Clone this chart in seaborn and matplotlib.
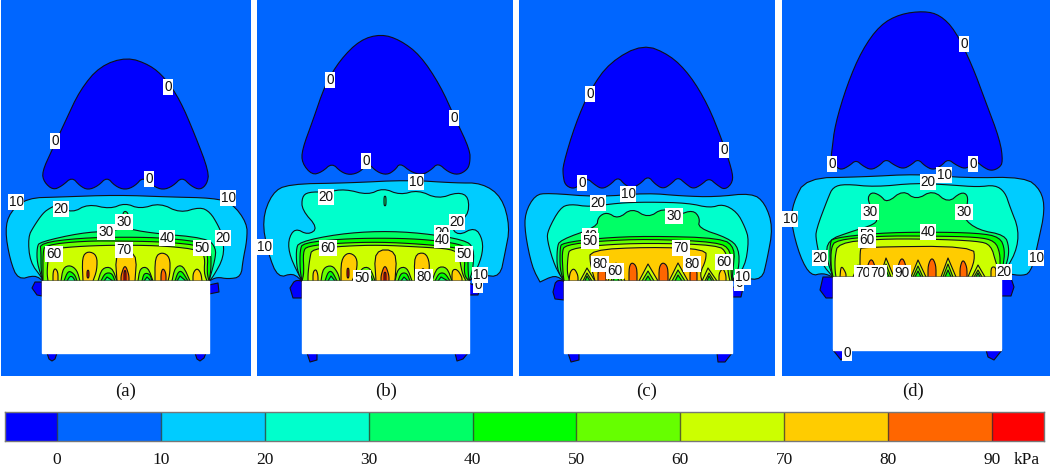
import numpy as np
import matplotlib
matplotlib.use("Agg")
import matplotlib.pyplot as plt
from matplotlib.colors import ListedColormap
import seaborn as sns

# bands of the pressure scale, below 0 up to above 90 kPa
band_colors = ["#0000ff", "#0066ff", "#00ccff", "#00ffcc", "#00ff66", "#00ff00",
               "#66ff00", "#ccff00", "#ffcc00", "#ff6600", "#ff0000"]
bar_values = [-5, 5, 5, 15, 15, 25, 25, 35, 35, 45, 45, 55, 55, 65, 65, 75, 75, 85, 85, 95]
bar_ticks = [0, 10, 20, 30, 40, 50, 60, 70, 80, 90]
panel_names = ["(a)", "(b)", "(c)", "(d)"]

# contour outlines: (band index, outline points)
regions_a = [
    (0, [(127,57),(100,66),(80,90),(65,122),(52,150),(42,172),(44,182),(53,190),(62,186),(72,177),(80,186),(88,190),(98,186),(107,177),(115,186),(125,190),(135,186),(143,177),(153,186),(163,190),(173,186),(182,177),(191,186),(200,190),(207,184),(209,172),(195,135),(180,100),(165,78),(150,65)]),
    (0, [(35,282),(32,288),(37,295),(42,296),(42,282)]),
    (0, [(209,285),(218,283),(219,292),(209,294)]),
    (0, [(47,353),(49,359),(52,361),(55,359),(57,353)]),
    (0, [(195,353),(197,359),(200,361),(204,358),(206,353)]),
    (2, [(27,198),(60,197),(117,195),(170,197),(213,198),(232,203),(247,223),(247,240),(243,260),(241,277),(228,279),(217,277),(209,281),(43,281),(35,275),(18,280),(10,260),(5,230),(10,212)]),
    (3, [(43,213),(50,208),(57,205),(72,213),(88,204),(110,209),(125,203),(140,209),(160,203),(180,213),(200,207),(210,212),(218,225),(223,237),(224,257),(213,277),(209,281),(43,281),(42,278),(30,262),(28,237),(34,226)]),
    (4, [(40,242),(80,233),(110,231),(125,228),(150,233),(207,238),(216,248),(215,260),(209,281),(43,281),(37,263),(37,247)]),
    (4, [(123,213),(125,211),(128,213),(128,217),(123,217)]),
    (5, [(40,243),(80,238),(125,237),(167,238),(207,243),(211,252),(211,270),(209,281),(43,281),(41,270),(41,252)]),
    (6, [(45,245),(83,241),(125,241),(167,242),(203,246),(208,255),(207,273),(209,281),(43,281),(43,273),(43,253)]),
    (7, [(50,249),(83,246),(125,245),(167,246),(200,250),(205,257),(204,273),(207,281),(48,281),(47,273),(48,260)]),
    (8, [(82,257),(88,251),(97,255),(97,270),(93,281),(83,281)]),
    (8, [(115,252),(137,252),(135,281),(117,281)]),
    (8, [(155,257),(162,252),(170,257),(170,273),(168,281),(155,281)]),
    (8, [(53,272),(55,268),(58,272),(58,281),(53,281)]),
    (8, [(193,273),(197,268),(201,273),(202,281),(193,281)]),
    (9, [(125,264),(121,275),(121,281),(129,281),(129,275)]),
    (10, [(124,272),(125,270),(126,272),(126,281),(124,281)]),
    (9, [(161,273),(163,268),(166,273),(166,281),(161,281)]),
    (10, [(87,271),(88,270),(89,271),(89,278),(87,278)]),
    (6, [(61,281),(63,268),(70,265),(77,270),(80,281)]),
    (5, [(64,281),(67,273),(70,271),(75,275),(77,281)]),
    (4, [(67,281),(70,276),(73,277),(75,281)]),
    (6, [(98,281),(102,268),(112,267),(117,281)]),
    (5, [(101,281),(105,273),(112,273),(115,281)]),
    (4, [(104,281),(107,277),(113,281)]),
    (6, [(138,281),(140,268),(148,267),(153,281)]),
    (5, [(142,281),(144,273),(150,274),(152,281)]),
    (4, [(144,281),(147,277),(151,281)]),
    (6, [(172,281),(175,267),(183,265),(190,281)]),
    (5, [(175,281),(178,272),(182,271),(188,281)]),
    (4, [(177,281),(180,276),(186,281)]),
]
regions_b = [
    (0, [(381,34),(360,40),(340,60),(325,85),(313,120),(302,150),(302,163),(312,175),(322,172),(332,163),(341,172),(350,175),(360,172),(368,163),(377,172),(387,175),(395,170),(400,163),(411,172),(422,175),(431,170),(438,163),(448,172),(458,175),(467,170),(470,163),(470,150),(455,118),(440,85),(420,55),(400,40)]),
    (0, [(295,280),(290,288),(293,298),(302,298),(302,281)]),
    (0, [(469,283),(480,288),(478,295),(469,295)]),
    (0, [(307,353),(310,362),(317,360),(317,353)]),
    (0, [(455,353),(457,361),(463,359),(468,353)]),
    (2, [(288,184),(348,183),(408,180),(455,183),(482,183),(502,197),(510,227),(505,253),(500,277),(482,275),(473,278),(469,281),(302,281),(293,273),(278,278),(268,253),(262,220),(272,193)]),
    (3, [(302,197),(308,192),(327,192),(345,189),(368,195),(383,188),(400,195),(418,190),(438,199),(458,192),(469,197),(468,217),(450,225),(458,236),(475,227),(483,240),(482,257),(473,277),(469,281),(302,281),(290,257),(288,240),(295,228),(308,235),(318,228),(302,210)]),
    (4, [(384,197),(385,196),(386,197),(386,205),(385,206),(384,205)]),
    (4, [(299,242),(338,234),(380,231),(422,233),(465,240),(474,248),(473,270),(469,281),(302,281),(297,270),(296,250)]),
    (5, [(303,243),(340,239),(380,238),(420,239),(455,243),(468,248),(468,270),(469,281),(302,281),(300,270),(300,250)]),
    (6, [(307,246),(340,243),(380,242),(420,244),(462,248),(465,257),(464,275),(469,281),(302,281),(304,273),(303,252)]),
    (7, [(312,249),(345,246),(380,245),(420,247),(452,249),(459,255),(462,273),(466,281),(308,281),(308,273),(310,257)]),
    (8, [(341,260),(348,252),(357,257),(357,270),(352,281),(341,281)]),
    (8, [(374,250),(397,250),(395,281),(376,281)]),
    (8, [(414,255),(425,252),(430,263),(428,281),(415,281)]),
    (8, [(313,272),(316,269),(318,275),(318,281),(313,281)]),
    (8, [(452,270),(457,269),(462,277),(462,281),(452,281)]),
    (9, [(381,275),(385,264),(389,275),(389,281),(381,281)]),
    (10, [(384,273),(385,272),(386,273),(386,281),(384,281)]),
    (10, [(347,269),(348,268),(349,269),(349,278),(347,278)]),
    (9, [(421,271),(423,268),(425,271),(425,274),(421,274)]),
    (6, [(321,281),(323,268),(332,265),(338,273),(340,281)]),
    (5, [(325,281),(328,272),(332,271),(337,281)]),
    (4, [(328,281),(331,276),(335,281)]),
    (6, [(358,281),(361,268),(370,267),(375,281)]),
    (5, [(362,281),(365,273),(370,273),(373,281)]),
    (4, [(364,281),(367,277),(371,281)]),
    (6, [(395,281),(398,268),(407,267),(412,281)]),
    (5, [(398,281),(401,273),(407,273),(410,281)]),
    (4, [(401,281),(404,277),(408,281)]),
    (6, [(432,281),(437,267),(447,267),(452,281)]),
    (5, [(435,281),(439,273),(445,273),(450,281)]),
    (4, [(438,281),(441,277),(448,281)]),
]
regions_c = [
    (0, [(643,44),(610,62),(590,90),(575,125),(563,165),(563,175),(565,185),(573,189),(580,185),(587,178),(595,185),(602,189),(610,185),(618,177),(625,185),(632,188),(640,184),(648,176),(655,184),(663,189),(671,184),(678,177),(686,184),(693,189),(701,185),(709,178),(717,185),(725,190),(733,182),(732,170),(722,140),(708,105),(690,75),(670,55)]),
    (0, [(556,280),(553,292),(555,299),(564,300),(564,281)]),
    (0, [(732,287),(743,288),(741,297),(732,297)]),
    (0, [(568,353),(571,362),(579,360),(579,353)]),
    (0, [(717,353),(718,362),(725,362),(732,353)]),
    (2, [(535,195),(548,193),(598,197),(647,193),(682,196),(715,197),(752,193),(765,203),(773,227),(767,260),(762,280),(742,278),(732,281),(564,281),(555,275),(540,282),(532,267),(525,233),(525,213)]),
    (3, [(560,208),(570,204),(590,207),(618,203),(648,202),(688,203),(710,208),(723,204),(737,212),(745,227),(749,240),(745,267),(732,281),(564,281),(555,267),(547,240),(548,230)]),
    (4, [(598,217),(607,212),(618,219),(632,208),(648,218),(663,208),(678,215),(693,210),(700,218),(698,228),(728,238),(739,248),(739,270),(732,281),(564,281),(557,270),(557,248),(560,240),(597,227)]),
    (5, [(562,243),(600,238),(648,236),(722,238),(735,248),(733,270),(732,281),(564,281),(560,270),(560,248)]),
    (6, [(565,245),(600,241),(648,239),(718,242),(731,250),(731,273),(732,281),(564,281),(563,273),(562,252)]),
    (7, [(570,249),(600,245),(648,243),(718,245),(727,253),(728,273),(730,281),(570,281),(567,273),(568,255)]),
    (8, [(590,250),(648,247),(706,249),(706,260),(700,273),(702,281),(595,281),(590,263)]),
    (8, [(570,272),(574,268),(578,275),(578,281),(569,281)]),
    (8, [(719,273),(723,268),(726,275),(726,281),(719,281)]),
    (9, [(598,268),(606,268),(606,281),(598,281)]),
    (9, [(632,262),(629,267),(629,281),(637,281),(637,267)]),
    (9, [(663,262),(659,267),(659,281),(668,281),(668,267)]),
    (9, [(690,268),(697,268),(697,281),(690,281)]),
    (7, [(580,281),(587,268),(595,281)]),
    (6, [(583,281),(587,273),(592,281)]),
    (5, [(585,281),(587,276),(590,281)]),
    (7, [(608,281),(616,263),(625,281)]),
    (6, [(611,281),(616,270),(622,281)]),
    (5, [(613,281),(616,275),(619,281)]),
    (7, [(639,281),(648,264),(658,281)]),
    (6, [(642,281),(648,271),(654,281)]),
    (5, [(645,281),(648,276),(651,281)]),
    (7, [(669,281),(678,263),(688,281)]),
    (6, [(672,281),(678,270),(685,281)]),
    (5, [(675,281),(678,275),(682,281)]),
    (7, [(702,281),(708,268),(717,281)]),
    (6, [(705,281),(709,273),(714,281)]),
    (5, [(707,281),(709,276),(712,281)]),
]
regions_d = [
    (0, [(924,11),(900,14),(880,25),(862,50),(847,85),(835,125),(832,150),(831,157),(835,166),(841,170),(849,166),(856,160),(863,166),(871,170),(879,166),(886,159),(894,165),(903,169),(911,165),(918,159),(925,166),(933,170),(941,166),(948,159),(956,165),(965,169),(971,165),(975,160),(983,167),(991,171),(999,168),(1003,162),(1000,140),(985,100),(972,65),(955,30),(940,15)]),
    (0, [(823,277),(820,290),(826,298),(833,298),(833,277)]),
    (0, [(1001,278),(1011,278),(1014,287),(1011,296),(1001,296)]),
    (0, [(833,350),(841,360),(848,350)]),
    (0, [(986,350),(988,357),(994,360),(1002,350)]),
    (2, [(806,178),(861,177),(918,174),(965,178),(1025,177),(1041,190),(1045,210),(1038,243),(1031,273),(1020,276),(1001,272),(1001,277),(833,277),(823,273),(811,276),(800,257),(791,223),(793,203)]),
    (3, [(828,198),(833,187),(845,184),(875,187),(916,183),(951,185),(978,187),(995,185),(1005,192),(1010,207),(1019,230),(1016,253),(1001,277),(833,277),(821,263),(816,240),(816,230)]),
    (4, [(867,200),(871,192),(880,195),(887,203),(903,190),(916,200),(933,190),(948,203),(961,192),(968,195),(967,207),(963,218),(978,230),(1005,235),(1009,247),(1008,260),(1001,277),(833,277),(826,257),(828,240),(850,232),(876,224),(877,217)]),
    (5, [(833,238),(878,233),(928,232),(978,233),(1000,237),(1005,250),(1003,267),(1001,277),(833,277),(830,263),(830,243)]),
    (6, [(836,240),(878,236),(928,236),(978,237),(995,241),(1000,253),(1000,267),(1001,277),(833,277),(831,267),(831,248)]),
    (7, [(838,243),(878,239),(928,239),(978,241),(991,245),(996,263),(1001,277),(836,277),(835,270),(835,257)]),
    (8, [(860,250),(862,247),(973,246),(975,260),(968,277),(860,277)]),
    (8, [(841,265),(846,273),(846,277),(840,277)]),
    (8, [(991,267),(996,267),(996,277),(991,277)]),
    (9, [(871,258),(867,267),(867,277),(875,277),(875,265)]),
    (9, [(902,257),(898,265),(898,277),(906,277),(906,265)]),
    (9, [(932,257),(928,265),(928,277),(936,277),(936,265)]),
    (9, [(963,259),(960,267),(960,277),(967,277),(967,267)]),
    (7, [(853,277),(858,265),(863,277)]),
    (6, [(855,277),(858,270),(861,277)]),
    (7, [(880,277),(886,258),(894,277)]),
    (6, [(882,277),(886,264),(891,277)]),
    (5, [(884,277),(886,270),(889,277)]),
    (7, [(911,277),(918,260),(926,277)]),
    (6, [(913,277),(918,266),(923,277)]),
    (5, [(915,277),(918,271),(921,277)]),
    (7, [(941,277),(948,258),(956,277)]),
    (6, [(943,277),(948,264),(953,277)]),
    (5, [(945,277),(948,270),(951,277)]),
    (7, [(972,277),(978,265),(985,277)]),
    (6, [(974,277),(978,270),(982,277)]),
    (5, [(976,277),(978,273),(980,277)]),
]

# white rectangle of each panel and the panel limits, in picture pixels
panel_limits = [(1, 251), (257, 513), (519, 775), (782, 1050)]
blank_boxes = [(42, 281, 209, 353), (302, 281, 469, 353), (564, 281, 732, 353), (833, 277, 1001, 350)]
caption_x = [126, 386, 647, 913]

labels_a = [("0",168,87),("0",55,141),("0",149,179),("10",16,202),("10",228,198),("20",61,209),("30",124,222),
            ("30",106,232),("40",167,238),("20",223,238),("50",202,248),("60",54,254),("70",124,250)]
labels_b = [("0",330,80),("0",454,118),("0",366,161),("10",416,182),("20",326,197),("20",457,222),("20",442,233),
            ("40",442,240),("60",328,248),("50",464,254),("10",265,247),("0",478,285),("10",480,275),("50",362,278),("80",424,277)]
labels_c = [("0",590,94),("0",724,150),("0",582,183),("10",628,194),("20",598,203),("30",674,216),("40",590,236),
            ("50",590,241),("70",681,248),("80",600,264),("60",615,271),("80",692,264),("60",724,262),("0",739,283),("10",743,277)]
labels_d = [("0",964,44),("0",832,164),("0",973,164),("10",944,175),("20",928,182),("30",870,212),("30",964,212),
            ("40",928,232),("50",867,235),("60",867,240),("10",790,219),("10",1036,258),("20",820,258),("20",1004,272),
            ("70",863,273),("70",878,273),("90",902,273),("0",847,353)]


def round_outline(pts, base_y, rounds=2):
    # cut corners so the outlines look like contours, points on the white box stay put
    pts = [tuple(p) for p in pts]
    if len(pts) < 4:
        return np.array(pts, dtype=float)
    for _ in range(rounds):
        out = []
        n = len(pts)
        for j in range(n):
            p, prev, nxt = np.array(pts[j]), np.array(pts[j - 1]), np.array(pts[(j + 1) % n])
            if p[1] >= base_y - 0.5:
                out.append(tuple(p))
            else:
                out.append(tuple(p * 0.75 + prev * 0.25))
                out.append(tuple(p * 0.75 + nxt * 0.25))
        pts = out
    return np.array(pts, dtype=float)


sns.set_theme(style="white")
plt.rcParams["font.family"] = ["Liberation Sans", "DejaVu Sans"]

W, H = 1052, 468
fig = plt.figure(figsize=(W / 100, H / 100), dpi=100)

all_regions = [regions_a, regions_b, regions_c, regions_d]
all_labels = [labels_a, labels_b, labels_c, labels_d]

for i in range(4):
    x0, x1 = panel_limits[i]
    ax = fig.add_axes([x0 / W, 1 - 376 / H, (x1 - x0) / W, 376 / H])
    ax.set_xlim(x0, x1)
    ax.set_ylim(376, 0)
    ax.axis("off")
    ax.add_patch(plt.Rectangle((x0, 0), x1 - x0, 376, color=band_colors[1], zorder=0))
    bx0, by0, bx1, by1 = blank_boxes[i]
    for band, pts in all_regions[i]:
        pts = round_outline(pts, by0)
        ax.fill(pts[:, 0], pts[:, 1], facecolor=band_colors[band], edgecolor="#101018",
                linewidth=0.8, joinstyle="round", zorder=2)
    ax.add_patch(plt.Rectangle((bx0, by0), bx1 - bx0, by1 - by0, color="white", zorder=3))
    for txt, tx, ty in all_labels[i]:
        ax.text(tx, ty, txt, fontsize=9.8, ha="center", va="center", color="#111111", zorder=4,
                bbox=dict(facecolor="white", edgecolor="none", pad=0.7))
    fig.text(caption_x[i] / W, 1 - 391 / H, panel_names[i], fontsize=13.5, family="Liberation Serif",
             ha="center", va="center", color="#111111")

# colour bar as a one row heatmap, each inner band takes two cells
cax = fig.add_axes([5 / W, 1 - 441 / H, 1039 / W, 29 / H])
sns.heatmap(np.array([bar_values]), ax=cax, cmap=ListedColormap(band_colors), vmin=-10, vmax=100,
            cbar=False, xticklabels=False, yticklabels=False)
for k in range(10):
    cax.axvline(1 + 2 * k, color="#333333", linewidth=1.0, alpha=0.75)
for side in cax.spines.values():
    side.set_visible(True)
    side.set_color("#777777")
    side.set_linewidth(1.0)
cax.tick_params(length=0)
cax.set_xticks([1 + 2 * k for k in range(10)])
cax.set_xticklabels(bar_ticks, fontsize=12.5, family="Liberation Serif", color="#111111")
cax.tick_params(axis="x", pad=8)
fig.text(1027 / W, 1 - 460 / H, "kPa", fontsize=12.5, family="Liberation Serif", ha="center", va="center", color="#111111")

fig.savefig("out.png", dpi=100)
